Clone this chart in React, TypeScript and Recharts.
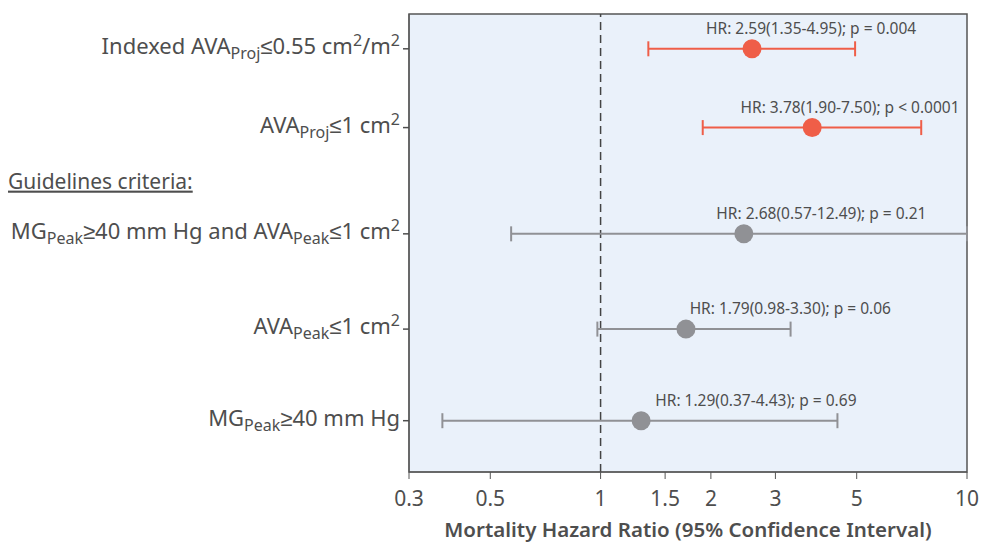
import React from "react";
import {
  ScatterChart,
  Scatter,
  ErrorBar,
  XAxis,
  YAxis,
  ReferenceLine,
  ReferenceArea,
} from "recharts";

// rows top→bottom (y position in row units, axis reversed)
const rowPos = [0.38, 1.24, 1.83, 2.4, 3.44, 4.44];

// y tick labels: [text, "" | "sub" | "sup"]
const rowLabels: [string, string][][] = [
  [["Indexed AVA", ""], ["Proj", "sub"], ["≤0.55 cm", ""], ["2", "sup"], ["/m", ""], ["2", "sup"]],
  [["AVA", ""], ["Proj", "sub"], ["≤1 cm", ""], ["2", "sup"]],
  [["Guidelines criteria:", ""]],
  [["MG", ""], ["Peak", "sub"], ["≥40 mm Hg and AVA", ""], ["Peak", "sub"], ["≤1 cm", ""], ["2", "sup"]],
  [["AVA", ""], ["Peak", "sub"], ["≤1 cm", ""], ["2", "sup"]],
  [["MG", ""], ["Peak", "sub"], ["≥40 mm Hg", ""]],
];

// hazard ratios as plotted, and 95% CI
const hrRows = [0.38, 1.24, 2.4, 3.44, 4.44];
const hr = [2.59, 3.78, 2.46, 1.71, 1.29];
const ciLow = [1.35, 1.9, 0.57, 0.98, 0.37];
const ciHigh = [4.95, 7.5, 12.49, 3.3, 4.43];
const hrText = [
  "HR: 2.59(1.35-4.95); p = 0.004",
  "HR: 3.78(1.90-7.50); p < 0.0001",
  "HR: 2.68(0.57-12.49); p = 0.21",
  "HR: 1.79(0.98-3.30); p = 0.06",
  "HR: 1.29(0.37-4.43); p = 0.69",
];
const textFrom = [1.94, 2.41, 2.07, 1.75, 1.41];

const xTicks = [0.3, 0.5, 1, 1.5, 2, 3, 5, 10];
const X_MAX = 10;

const RED = "#ef5e48";
const GREY = "#909195";
const INK = "#4e4e4e";
const FONT = "'Noto Sans', sans-serif";

// CI upper bound is cut at the axis end (12.49 runs off the plot)
const points = hr.map((v, i) => ({
  hr: v,
  row: hrRows[i],
  err: [v - ciLow[i], Math.min(ciHigh[i], X_MAX) - v],
}));
const redPoints = points.slice(0, 2);
const greyPoints = points.slice(2);
const textPoints = hrText.map((t, i) => ({ hr: textFrom[i], row: hrRows[i], text: t }));

function RowTick({ x, y, payload }: any) {
  const idx = rowPos.indexOf(payload.value);
  const parts = rowLabels[idx] || [];
  if (idx === 2) {
    return (
      <text x={0} y={y + 7} fontSize={21} fill={INK} fontFamily={FONT} textDecoration="underline">
        {parts[0][0]}
      </text>
    );
  }
  let shift = 0;
  return (
    <g>
      <line x1={x + 2} x2={x + 8} y1={y} y2={y} stroke={INK} strokeWidth={1.5} />
      <text x={x - 1} y={y + 5} textAnchor="end" fontSize={22} fill={INK} fontFamily={FONT}>
        {parts.map(([t, k], i) => {
          const target = k === "sub" ? 5 : k === "sup" ? -8 : 0;
          const dy = target - shift;
          shift = target;
          return (
            <tspan key={i} dy={dy} fontSize={k ? 16 : 22}>
              {t}
            </tspan>
          );
        })}
      </text>
    </g>
  );
}

const Dot = (color: string) => (p: any) => <circle cx={p.cx} cy={p.cy} r={9.5} fill={color} />;

const HrText = (p: any) => (
  <text x={p.cx} y={p.cy - 15} fontSize={15.5} fill={INK} fontFamily={FONT}>
    {p.payload.text}
  </text>
);

export default function App() {
  return (
    <div style={{ width: 975, height: 540 }}>
      <style>{"body{margin:8px 0 0 8px;overflow:hidden} #root{width:975px;height:540px}"}</style>
      <ScatterChart width={975} height={540} margin={{ top: 6, right: 16, left: 0, bottom: 0 }}>
        <ReferenceArea x1={0.3} x2={10} y1={0} y2={5} fill="#eaf1fa" fillOpacity={1} stroke="#555" strokeWidth={1.5} ifOverflow="extendDomain" />
        <XAxis
          type="number"
          dataKey="hr"
          scale="log"
          domain={[0.3, X_MAX]}
          allowDataOverflow
          ticks={xTicks}
          interval={0}
          tickSize={7}
          tickMargin={12}
          height={76}
          stroke="#555"
          tick={{ fontSize: 21, fill: INK, fontFamily: FONT }}
          label={{ value: "Mortality Hazard Ratio (95% Confidence Interval)", position: "insideBottom", offset: 11, fontSize: 20.5, fill: INK, fontFamily: FONT, fontWeight: 600 }}
        />
        <YAxis
          type="number"
          dataKey="row"
          domain={[0, 5]}
          reversed
          ticks={rowPos}
          interval={0}
          width={401}
          tickLine={false}
          stroke="#555"
          tick={<RowTick />}
        />
        <ReferenceLine x={1} stroke="#444" strokeWidth={1.5} strokeDasharray="8 5" />
        <Scatter data={redPoints} fill={RED} shape={Dot(RED)} isAnimationActive={false}>
          <ErrorBar dataKey="err" direction="x" width={7.5} stroke={RED} strokeWidth={2} isAnimationActive={false} />
        </Scatter>
        <Scatter data={greyPoints} fill={GREY} shape={Dot(GREY)} isAnimationActive={false}>
          <ErrorBar dataKey="err" direction="x" width={7.5} stroke={GREY} strokeWidth={2} isAnimationActive={false} />
        </Scatter>
        <Scatter data={textPoints} shape={HrText} isAnimationActive={false} />
      </ScatterChart>
    </div>
  );
}
